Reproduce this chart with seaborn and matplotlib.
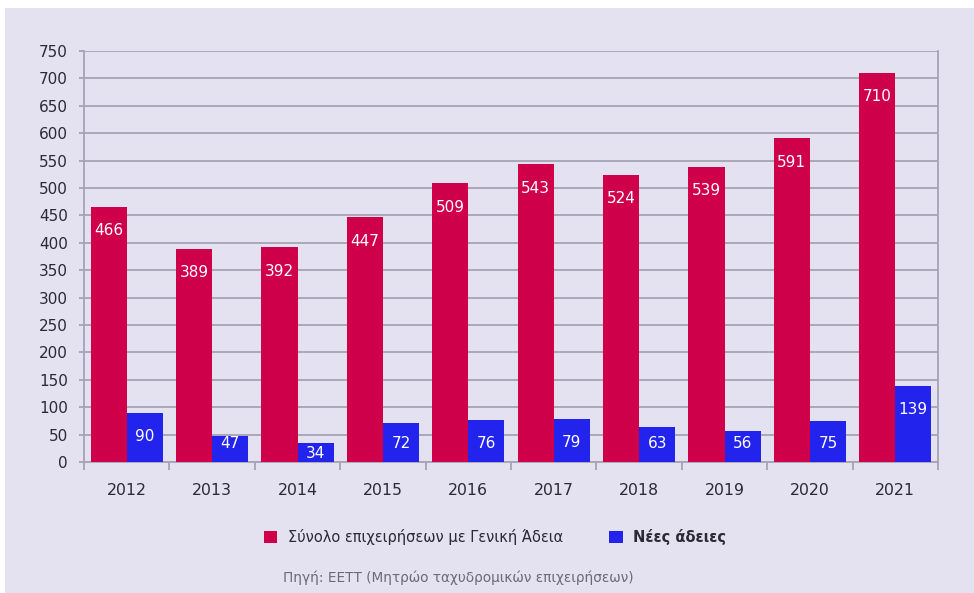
import matplotlib
matplotlib.use("Agg")
import matplotlib.pyplot as plt
from matplotlib.patches import Rectangle, Patch
import seaborn as sns
import pandas as pd

years = ["2012", "2013", "2014", "2015", "2016", "2017", "2018", "2019", "2020", "2021"]
total_licensed = [466, 389, 392, 447, 509, 543, 524, 539, 591, 710]
new_licences = [90, 47, 34, 72, 76, 79, 63, 56, 75, 139]
series_names = ["Σύνολο επιχειρήσεων με Γενική Άδεια", "Νέες άδειες"]
y_ticks = list(range(0, 751, 50))
source_note = "Πηγή: ΕΕΤΤ (Μητρώο ταχυδρομικών επιχειρήσεων)"

RED = "#cf0049"
BLUE = "#2323ee"
BG = "#e4e1f1"
GRID = "#a5a4b3"
TEXT = "#2a2a33"
PT = 72 / 100  # points per pixel at 100 dpi

sns.set_theme(style="white")
plt.rcParams["font.family"] = ["DejaVu Sans"]

df = pd.DataFrame({
    "year": years * 2,
    "value": total_licensed + new_licences,
    "series": [series_names[0]] * len(years) + [series_names[1]] * len(years),
})

fig = plt.figure(figsize=(9.74, 5.93), dpi=100, facecolor="white")
# lavender panel with a thin white margin at the top and left
fig.patches.append(Rectangle((5 / 974, 0), 1, 1 - 8 / 593, transform=fig.transFigure,
                             facecolor=BG, edgecolor="none", zorder=-10))
ax = fig.add_axes([84 / 974, 1 - 462 / 593, (938 - 84) / 974, (462 - 51) / 593])
ax.set_facecolor(BG)

sns.barplot(data=df, x="year", y="value", hue="series", order=years,
            hue_order=series_names, palette=[RED, BLUE], saturation=1,
            width=0.845, linewidth=0, ax=ax, legend=False, zorder=3)

ax.set_ylim(0, 750)
ax.set_xlim(-0.5, len(years) - 0.5)
ax.set_yticks(y_ticks)
ax.yaxis.grid(True, color=GRID, linewidth=1.3, zorder=0)
ax.set_axisbelow(True)
ax.set_xlabel("")
ax.set_ylabel("")

for side in ["left", "right"]:
    ax.spines[side].set_visible(True)
    ax.spines[side].set_color(GRID)
    ax.spines[side].set_linewidth(1.3)
ax.spines["bottom"].set_color(GRID)
ax.spines["bottom"].set_linewidth(1.3)
ax.spines["top"].set_visible(False)

ax.tick_params(axis="y", which="major", left=True, length=5 * PT, width=1.3, color=GRID,
               labelsize=11, labelcolor=TEXT, pad=11 * PT)
ax.tick_params(axis="x", which="major", bottom=False, labelsize=11.3, labelcolor=TEXT,
               pad=13 * PT)
ax.set_xticks([i - 0.5 for i in range(len(years) + 1)], minor=True)
ax.tick_params(axis="x", which="minor", bottom=True, length=8 * PT, width=1.3, color=GRID)

# value labels inside the top of each bar, kept within short bars
px_per_unit = (462 - 51) / 750
for container in ax.containers:
    for bar in container:
        v = bar.get_height()
        x = bar.get_x() + bar.get_width() / 2
        bar_px = v * px_per_unit
        if bar_px < 20:
            drop = bar_px - 8
        else:
            drop = min(24, bar_px - 18)
        ax.annotate(f"{int(round(v))}", (x, v), xytext=(0, -drop * PT),
                    textcoords="offset points", ha="center", va="center",
                    color="white", fontsize=11, zorder=5)

handles = [Patch(facecolor=RED, edgecolor="none"), Patch(facecolor=BLUE, edgecolor="none")]
leg = fig.legend(handles, series_names, loc="center", bbox_to_anchor=(495 / 974, 1 - 537 / 593),
                 ncol=2, frameon=False, fontsize=10.5, handlelength=0.9, handleheight=0.9,
                 handletextpad=0.7, columnspacing=3.2)
for t in leg.get_texts():
    t.set_color(TEXT)
leg.get_texts()[1].set_fontweight("bold")

fig.text(458 / 974, 1 - 578 / 593, source_note, ha="center", va="center",
         fontsize=9.8, color="#6a6a78")

fig.savefig("out.png", dpi=100, facecolor=fig.get_facecolor())
